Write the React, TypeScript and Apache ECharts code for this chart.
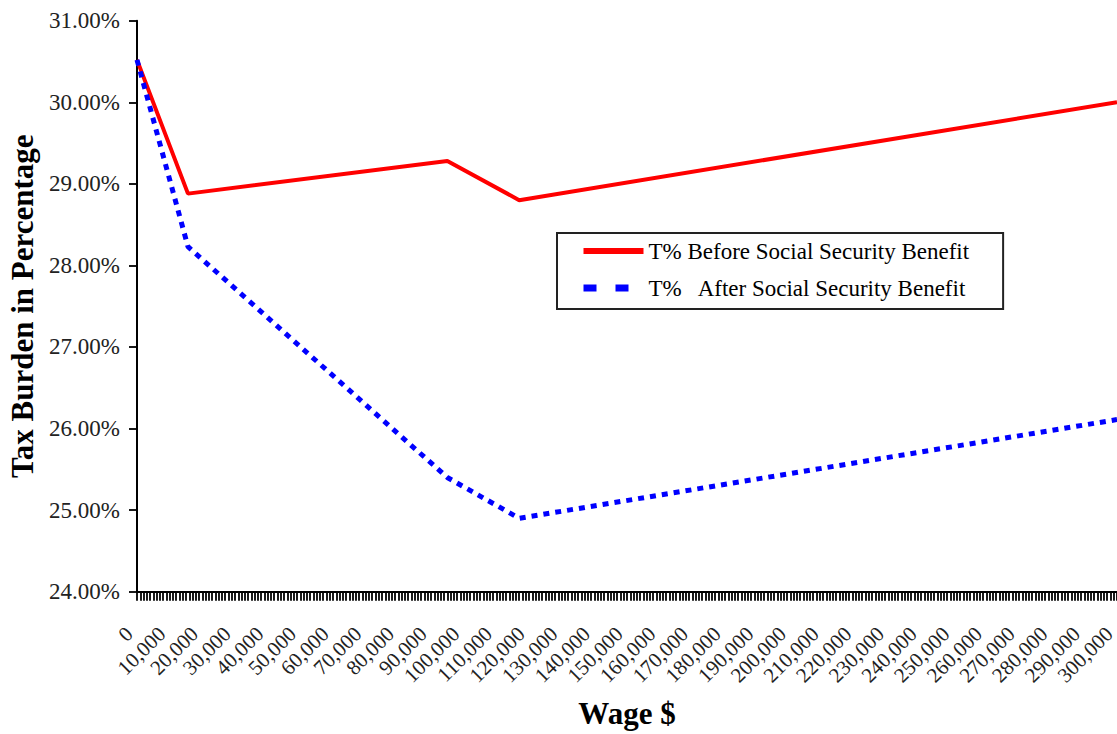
import React, { useEffect, useRef } from "react";
import * as echarts from "echarts";

const wages = [0, 15600, 95000, 117000, 300000];
const beforeSS = [30.52, 28.88, 29.28, 28.8, 30.0];
const afterSS = [30.52, 28.23, 25.4, 24.9, 26.11];
const seriesNames = ["T% Before Social Security Benefit", "T%   After Social Security Benefit"];
const xTitle = "Wage $";
const yTitle = "Tax Burden in Percentage";

const FONT = "'Liberation Serif', 'Times New Roman', serif";

export default function App() {
  const ref = useRef<HTMLDivElement>(null);
  useEffect(() => {
    if (!ref.current) return;
    const chart = echarts.init(ref.current, null, { renderer: "svg" });
    chart.setOption({
      animation: false,
      backgroundColor: "#ffffff",
      grid: {
        left: 137,
        right: 0,
        top: 20.7,
        bottom: 142.3,
        containLabel: false,
        outerBoundsMode: "none",
      },
      xAxis: {
        type: "value",
        min: 0,
        max: 300000,
        interval: 10000,
        name: xTitle,
        nameLocation: "middle",
        nameGap: 106,
        nameTextStyle: { fontFamily: FONT, fontSize: 31, fontWeight: "bold", color: "#000" },
        axisLine: { show: true, onZero: false, lineStyle: { color: "#000", width: 2 } },
        axisTick: { show: true, length: 9, lineStyle: { color: "#000", width: 1.8 } },
        minorTick: { show: true, splitNumber: 10, length: 9, lineStyle: { color: "#000", width: 1.8 } },
        splitLine: { show: false },
        axisLabel: {
          rotate: 45,
          margin: 31,
          padding: [0, 11, 20, 0],
          fontFamily: FONT,
          fontSize: 21,
          color: "#222",
          showMinLabel: true,
          showMaxLabel: true,
          hideOverlap: false,
          formatter: (v: number) => v.toLocaleString("en-US"),
        },
      },
      yAxis: {
        type: "value",
        min: 24,
        max: 31,
        interval: 1,
        name: yTitle,
        nameLocation: "middle",
        nameGap: 99,
        nameTextStyle: { fontFamily: FONT, fontSize: 31, fontWeight: "bold", color: "#000" },
        axisLine: { show: true, lineStyle: { color: "#000", width: 2 } },
        axisTick: { show: true, length: 8, lineStyle: { color: "#000", width: 1.8 } },
        splitLine: { show: false },
        axisLabel: {
          margin: 17,
          fontFamily: FONT,
          fontSize: 23,
          color: "#222",
          formatter: (v: number) => v.toFixed(2) + "%",
        },
      },
      legend: {
        orient: "vertical",
        left: 557,
        top: 233,
        padding: [6, 34, 9, 23],
        borderColor: "#222",
        borderWidth: 2,
        itemWidth: 60,
        itemHeight: 14,
        itemGap: 13,
        textStyle: { fontFamily: FONT, fontSize: 23, color: "#000", lineHeight: 24 },
        data: [
          {
            name: seriesNames[0],
            itemStyle: { opacity: 0 },
            lineStyle: { width: 6, color: "#ff0000" },
          },
          {
            name: seriesNames[1],
            itemStyle: { opacity: 0 },
            lineStyle: { width: 7, color: "#0000ff", type: [13, 19] },
          },
        ],
      },
      series: [
        {
          name: seriesNames[0],
          type: "line",
          data: wages.map((w, i) => [w, beforeSS[i]]),
          symbol: "none",
          lineStyle: { color: "#ff0000", width: 4 },
          itemStyle: { color: "#ff0000" },
        },
        {
          name: seriesNames[1],
          type: "line",
          data: wages.map((w, i) => [w, afterSS[i]]),
          symbol: "none",
          lineStyle: { color: "#0000ff", width: 5, type: [6, 6] },
          itemStyle: { color: "#0000ff" },
        },
      ],
    });
    return () => chart.dispose();
  }, []);
  return (
    <div
      ref={ref}
      style={{ position: "fixed", left: 0, top: 0, width: 1117, height: 734, background: "#fff" }}
    />
  );
}
